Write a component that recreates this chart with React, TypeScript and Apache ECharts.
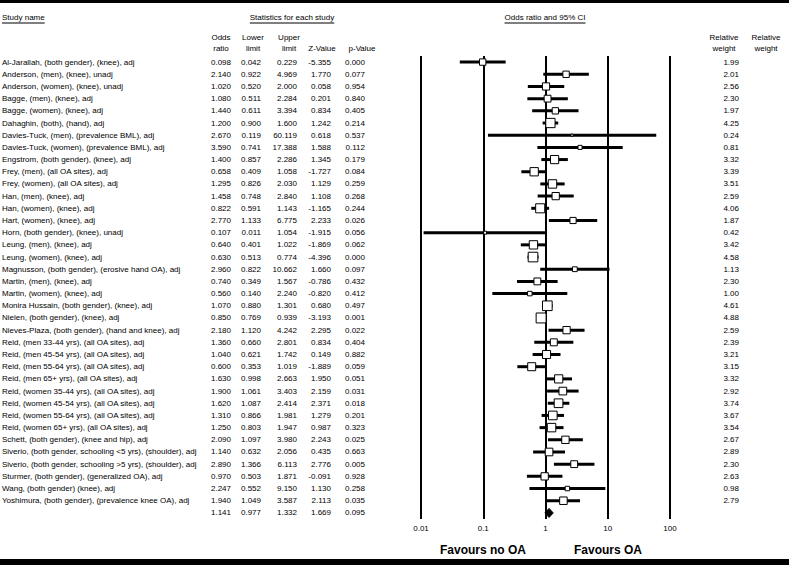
import React, { useEffect, useRef } from 'react';
import * as echarts from 'echarts';

const studyNames = [
  'Al-Jarallah, (both gender), (knee), adj',
  'Anderson, (men), (knee), unadj',
  'Anderson, (women), (knee), unadj',
  'Bagge, (men), (knee), adj',
  'Bagge, (women), (knee), adj',
  'Dahaghin, (both), (hand), adj',
  'Davies-Tuck, (men), (prevalence BML), adj',
  'Davies-Tuck, (women), (prevalence BML), adj',
  'Engstrom, (both gender), (knee), adj',
  'Frey, (men), (all OA sites), adj',
  'Frey, (women), (all OA sites), adj',
  'Han, (men), (knee), adj',
  'Han, (women), (knee), adj',
  'Hart, (women), (knee), adj',
  'Horn, (both gender), (knee), unadj',
  'Leung, (men), (knee), adj',
  'Leung, (women), (knee), adj',
  'Magnusson, (both gender), (erosive hand OA), adj',
  'Martin, (men), (knee), adj',
  'Martin, (women), (knee), adj',
  'Monira Hussain, (both gender), (knee), adj',
  'Nielen, (both gender), (knee), adj',
  'Nieves-Plaza, (both gender), (hand and knee), adj',
  'Reid, (men 33-44 yrs), (all OA sites), adj',
  'Reid, (men 45-54 yrs), (all OA sites), adj',
  'Reid, (men 55-64 yrs), (all OA sites), adj',
  'Reid, (men 65+ yrs), (all OA sites), adj',
  'Reid, (women 35-44 yrs), (all OA sites), adj',
  'Reid, (women 45-54 yrs), (all OA sites), adj',
  'Reid, (women 55-64 yrs), (all OA sites), adj',
  'Reid, (women 65+ yrs), (all OA sites), adj',
  'Schett, (both gender), (knee and hip), adj',
  'Siverio, (both gender, schooling <5 yrs), (shoulder), adj',
  'Siverio, (both gender, schooling >5 yrs), (shoulder), adj',
  'Sturmer, (both gender), (generalized OA), adj',
  'Wang, (both gender) (knee), adj',
  'Yoshimura, (both gender), (prevalence knee OA), adj',
];

const oddsRatio = [0.098, 2.14, 1.02, 1.08, 1.44, 1.2, 2.67, 3.59, 1.4, 0.658, 1.295, 1.458, 0.822, 2.77, 0.107, 0.64, 0.63, 2.96, 0.74, 0.56, 1.07, 0.85, 2.18, 1.36, 1.04, 0.6, 1.63, 1.9, 1.62, 1.31, 1.25, 2.09, 1.14, 2.89, 0.97, 2.247, 1.94];
const lowerLimit = [0.042, 0.922, 0.52, 0.511, 0.611, 0.9, 0.119, 0.741, 0.857, 0.409, 0.826, 0.748, 0.591, 1.133, 0.011, 0.401, 0.513, 0.822, 0.349, 0.14, 0.88, 0.769, 1.12, 0.66, 0.621, 0.353, 0.998, 1.061, 1.087, 0.866, 0.803, 1.097, 0.632, 1.366, 0.503, 0.552, 1.049];
const upperLimit = [0.229, 4.969, 2.0, 2.284, 3.394, 1.6, 60.119, 17.388, 2.286, 1.058, 2.03, 2.84, 1.143, 6.775, 1.054, 1.022, 0.774, 10.662, 1.567, 2.24, 1.301, 0.939, 4.242, 2.801, 1.742, 1.019, 2.663, 3.403, 2.414, 1.981, 1.947, 3.98, 2.056, 6.113, 1.871, 9.15, 3.587];
const zValue = [-5.355, 1.77, 0.058, 0.201, 0.834, 1.242, 0.618, 1.588, 1.345, -1.727, 1.129, 1.108, -1.165, 2.233, -1.915, -1.869, -4.396, 1.66, -0.786, -0.82, 0.68, -3.193, 2.295, 0.834, 0.149, -1.889, 1.95, 2.159, 2.371, 1.279, 0.987, 2.243, 0.435, 2.776, -0.091, 1.13, 2.113];
const pValue = [0.0, 0.077, 0.954, 0.84, 0.405, 0.214, 0.537, 0.112, 0.179, 0.084, 0.259, 0.268, 0.244, 0.026, 0.056, 0.062, 0.0, 0.097, 0.432, 0.412, 0.497, 0.001, 0.022, 0.404, 0.882, 0.059, 0.051, 0.031, 0.018, 0.201, 0.323, 0.025, 0.663, 0.005, 0.928, 0.258, 0.035];
const relativeWeight = [1.99, 2.01, 2.56, 2.3, 1.97, 4.25, 0.24, 0.81, 3.32, 3.39, 3.51, 2.59, 4.06, 1.87, 0.42, 3.42, 4.58, 1.13, 2.3, 1.0, 4.61, 4.88, 2.59, 2.39, 3.21, 3.15, 3.32, 2.92, 3.74, 3.67, 3.54, 2.67, 2.89, 2.3, 2.63, 0.98, 2.79];

// summary (pooled) row: odds ratio, lower, upper, z, p
const summaryStats = [1.141, 0.977, 1.332, 1.669, 0.095];

const xTicks = [0.01, 0.1, 1, 10, 100];

const FONT = '"Liberation Sans", Arial, sans-serif';
const TABLE_FONT = `8px ${FONT}`;

// layout (pixels)
const COL_NAME_X = 2;
const COL_RIGHT = [231, 261, 297, 331, 365]; // OR, lower, upper, Z, p (right edges)
const COL_WEIGHT_RIGHT = 739;
const BOX_SCALE = 4.5;

function textWidth(text: string, font: string) {
  const c = document.createElement('canvas').getContext('2d');
  if (!c) return text.length * 5;
  c.font = font;
  return c.measureText(text).width;
}

export default function App() {
  const ref = useRef<HTMLDivElement>(null);

  useEffect(() => {
    if (!ref.current) return;
    const chart = echarts.init(ref.current, undefined, { renderer: 'svg' });

    const nRows = studyNames.length + 1;
    const rowCats = studyNames.concat(['Summary']);

    const forestData = oddsRatio.map((v, i) => [lowerLimit[i], upperLimit[i], v, relativeWeight[i], i]);
    const summaryData = [[summaryStats[1], summaryStats[2], summaryStats[0], 0, nRows - 1]];
    const tableData = rowCats.map((_, i) => [1, i]);

    const fmt3 = (v: number) => v.toFixed(3);

    const headerFont = `8px ${FONT}`;
    const underlined = (text: string, x: number, y: number, align: 'left' | 'center') => {
      const w = textWidth(text, headerFont);
      const x0 = align === 'left' ? x : x - w / 2;
      return [
        { type: 'text', x: x0, y, style: { text, font: headerFont, fill: '#000', textAlign: 'left', textVerticalAlign: 'middle' } },
        { type: 'line', shape: { x1: x0, y1: y + 6, x2: x0 + w, y2: y + 6 }, style: { stroke: '#000', lineWidth: 1 } },
      ];
    };
    const centered = (text: string, x: number, y: number) => ({
      type: 'text', x, y, style: { text, font: headerFont, fill: '#000', textAlign: 'center', textVerticalAlign: 'middle' },
    });

    const option: any = {
      animation: false,
      backgroundColor: '#fff',
      grid: { left: 421, right: 119, top: 56, bottom: 46, containLabel: false },
      xAxis: {
        type: 'log',
        logBase: 10,
        min: xTicks[0],
        max: xTicks[xTicks.length - 1],
        axisLine: { show: false },
        axisTick: { show: false },
        minorTick: { show: false },
        splitLine: { show: true, lineStyle: { color: '#000', width: 2, type: 'solid' } },
        axisLabel: {
          margin: 5,
          fontSize: 8,
          fontFamily: FONT,
          color: '#000',
          formatter: (v: number) => String(parseFloat(Number(v).toPrecision(2))),
        },
      },
      yAxis: {
        type: 'category',
        data: rowCats,
        inverse: true,
        show: false,
      },
      graphic: [
        { type: 'rect', shape: { x: 0, y: 0, width: 789, height: 3 }, style: { fill: '#000' } },
        { type: 'rect', shape: { x: 0, y: 559, width: 789, height: 6 }, style: { fill: '#000' } },
        ...underlined('Study name', COL_NAME_X, 17, 'left'),
        ...underlined('Statistics for each study', 292, 17, 'center'),
        ...underlined('Odds ratio and 95% CI', 545, 17, 'center'),
        centered('Odds', 221, 37),
        centered('ratio', 221, 48),
        centered('Lower', 253, 37),
        centered('limit', 253, 48),
        centered('Upper', 289, 37),
        centered('limit', 289, 48),
        centered('Z-Value', 322, 48),
        centered('p-Value', 362, 48),
        centered('Relative', 724, 37),
        centered('weight', 724, 48),
        centered('Relative', 766, 37),
        centered('weight', 766, 48),
        { type: 'text', x: 483, y: 550, style: { text: 'Favours no OA', font: `bold 12px ${FONT}`, fill: '#000', textAlign: 'center', textVerticalAlign: 'middle' } },
        { type: 'text', x: 608, y: 550, style: { text: 'Favours OA', font: `bold 12px ${FONT}`, fill: '#000', textAlign: 'center', textVerticalAlign: 'middle' } },
      ],
      series: [
        {
          type: 'custom',
          name: 'table',
          data: tableData,
          encode: { x: 0, y: 1 },
          clip: false,
          silent: true,
          renderItem: (params: any, api: any) => {
            const i = params.dataIndex;
            const y = api.coord([1, i])[1];
            const isSum = i === studyNames.length;
            const vals = isSum
              ? summaryStats
              : [oddsRatio[i], lowerLimit[i], upperLimit[i], zValue[i], pValue[i]];
            const children: any[] = [];
            if (!isSum) {
              children.push({ type: 'text', x: COL_NAME_X, y, style: { text: studyNames[i], font: TABLE_FONT, fill: '#000', textAlign: 'left', textVerticalAlign: 'middle' } });
              children.push({ type: 'text', x: COL_WEIGHT_RIGHT, y, style: { text: relativeWeight[i].toFixed(2), font: TABLE_FONT, fill: '#000', textAlign: 'right', textVerticalAlign: 'middle' } });
            }
            vals.forEach((v, k) => {
              children.push({ type: 'text', x: COL_RIGHT[k], y, style: { text: fmt3(v), font: TABLE_FONT, fill: '#000', textAlign: 'right', textVerticalAlign: 'middle' } });
            });
            return { type: 'group', children };
          },
        },
        {
          type: 'custom',
          name: 'studies',
          data: forestData,
          encode: { x: [0, 1, 2], y: 4 },
          clip: false,
          silent: true,
          renderItem: (params: any, api: any) => {
            const row = api.value(4);
            const lo = api.coord([api.value(0), row]);
            const hi = api.coord([api.value(1), row]);
            const mid = api.coord([api.value(2), row]);
            const s = BOX_SCALE * Math.sqrt(api.value(3));
            return {
              type: 'group',
              children: [
                { type: 'line', shape: { x1: lo[0], y1: lo[1], x2: hi[0], y2: hi[1] }, style: { stroke: '#000', lineWidth: 3 } },
                { type: 'rect', shape: { x: mid[0] - s / 2, y: mid[1] - s / 2, width: s, height: s }, style: { fill: '#fff', stroke: '#000', lineWidth: 1 } },
              ],
            };
          },
        },
        {
          type: 'custom',
          name: 'summary',
          data: summaryData,
          encode: { x: [0, 1, 2], y: 4 },
          clip: false,
          silent: true,
          renderItem: (params: any, api: any) => {
            const row = api.value(4);
            const lo = api.coord([api.value(0), row]);
            const hi = api.coord([api.value(1), row]);
            const mid = api.coord([api.value(2), row]);
            const h = 4.5;
            return {
              type: 'polygon',
              shape: { points: [[lo[0], lo[1]], [mid[0], mid[1] - h], [hi[0], hi[1]], [mid[0], mid[1] + h]] },
              style: { fill: '#000', stroke: '#000', lineWidth: 1 },
            };
          },
        },
      ],
    };

    chart.setOption(option);
    return () => chart.dispose();
  }, []);

  return (
    <div
      ref={ref}
      style={{ position: 'absolute', left: 0, top: 0, width: 789, height: 565, background: '#fff' }}
    />
  );
}
